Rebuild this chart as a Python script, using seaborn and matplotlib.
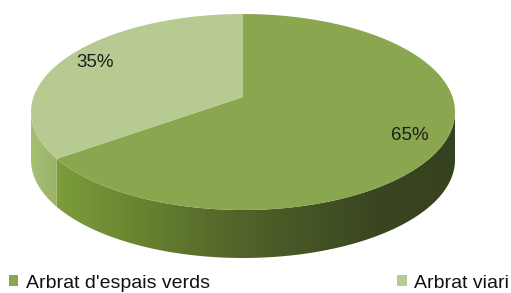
import numpy as np
import matplotlib
matplotlib.use("Agg")
import matplotlib.pyplot as plt
import matplotlib.patches as mpatches
from matplotlib.colors import to_rgb
import seaborn as sns

# ---- data ----
categories = ["Arbrat d'espais verds", "Arbrat viari"]
values = [65, 35]
pct_labels = ["65%", "35%"]
top_colors = ["#8aa64e", "#b6ca92"]
side_colors = [["#7d9d3c", "#6a8531", "#566a2a", "#475726", "#3a4621", "#36411f"],
               ["#a6bf73", "#9bb268"]]

sns.set_theme(style="white")
plt.rcParams['font.family'] = ['Liberation Sans', 'DejaVu Sans']

W, H = 511, 293
fig = plt.figure(figsize=(W / 100, H / 100), dpi=100)
ax = fig.add_axes([0, 0, 1, 1])
ax.set_xlim(0, W)
ax.set_ylim(H, 0)
ax.axis('off')

# perspective geometry of the pie disc (pixels)
CX, CY = 243, 97
S, T, K = 209.5, 95.7, 0.153
DEPTH = 48


def proj(theta_deg, r=1.0):
    th = np.radians(theta_deg)
    u = r * np.cos(th)
    v = r * np.sin(th)
    d = 1 + K * v
    return CX + S * u / d, CY - T * v / d


# slice angles: start at 12 o'clock, clockwise
total = float(sum(values))
bounds = []
a0 = 90.0
for v in values:
    a1 = a0 - 360.0 * v / total
    bounds.append((a1, a0))
    a0 = a1

# visible side range (between silhouette points)
phi = np.degrees(np.arcsin(K))
vis_lo, vis_hi = -180 + phi, -phi

xs = np.arange(W)


def gradient_image(stops, x0, x1):
    cols = np.array([to_rgb(c) for c in stops])
    px = np.linspace(x0, x1, len(stops))
    img = np.zeros((2, W, 3))
    for ch in range(3):
        img[:, :, ch] = np.interp(xs, px, cols[:, ch])
    return img


# sides
for i, (lo, hi) in enumerate(bounds):
    for shift in (-360, 0, 360):
        l, h = max(lo + shift, vis_lo), min(hi + shift, vis_hi)
        if h <= l:
            continue
        th = np.linspace(l, h, 200)
        tx, ty = proj(th)
        pts = np.concatenate([np.column_stack([tx, ty]),
                              np.column_stack([tx[::-1], ty[::-1] + DEPTH])])
        poly = mpatches.Polygon(pts, closed=True, facecolor='none', edgecolor='none')
        ax.add_patch(poly)
        stops = side_colors[i]
        if len(stops) > 2:
            img = gradient_image(stops, 55, 455)
        else:
            img = gradient_image(stops, tx.min(), tx.max())
        im = ax.imshow(img, extent=(0, W, H, 0), aspect='auto',
                       interpolation='bilinear', zorder=1)
        im.set_clip_path(poly)

# tops
for i, (lo, hi) in enumerate(bounds):
    th = np.linspace(lo, hi, 300)
    tx, ty = proj(th)
    pts = np.vstack([[CX, CY], np.column_stack([tx, ty])])
    ax.add_patch(mpatches.Polygon(pts, closed=True, facecolor=top_colors[i],
                                  edgecolor='none', zorder=2))
    mid = (lo + hi) / 2
    lx, ly = proj(mid, 0.84)
    ax.text(lx, ly, pct_labels[i], ha='center', va='center', fontsize=13.5,
            color='#1e1e1e', zorder=3)

# legend
handles = [mpatches.Patch(facecolor=top_colors[i], edgecolor='none', label=categories[i])
           for i in range(len(categories))]
ax.legend(handles=handles, loc='center left', bbox_to_anchor=(9 / W, 1 - 283 / H),
          ncol=2, frameon=False, fontsize=14, handlelength=0.48, handleheight=0.48,
          handletextpad=0.4, columnspacing=9.63, borderpad=0, borderaxespad=0,
          labelcolor='#111111')

fig.savefig("out.png", dpi=100)
